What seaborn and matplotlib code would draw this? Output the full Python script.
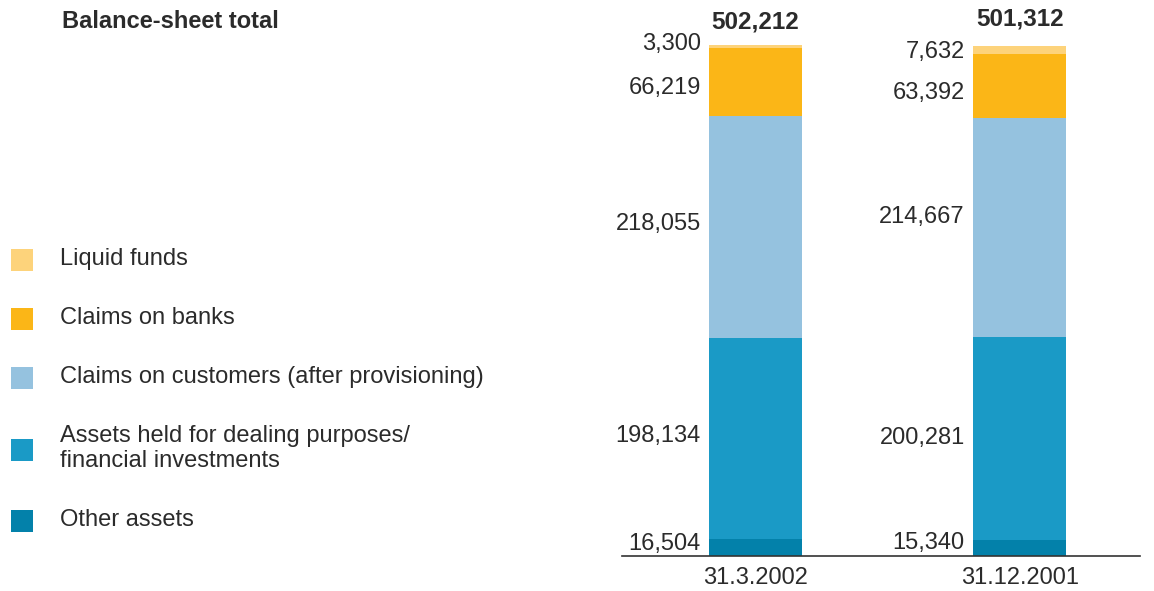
import numpy as np
import pandas as pd
import matplotlib
matplotlib.use("Agg")
import matplotlib.pyplot as plt
from matplotlib.patches import Rectangle
import seaborn as sns

# Balance-sheet assets (EUR m), stacked bottom to top
dates = ["31.3.2002", "31.12.2001"]
categories = [
    "Other assets",
    "Assets held for dealing purposes/\nfinancial investments",
    "Claims on customers (after provisioning)",
    "Claims on banks",
    "Liquid funds",
]
other_assets = [16504, 15340]
dealing_assets = [198134, 200281]
claims_customers = [218055, 214667]
claims_banks = [66219, 63392]
liquid_funds = [3300, 7632]
totals = [502212, 501312]

colors = ["#0381AA", "#1A9AC6", "#95C2DF", "#FBB617", "#FDD37B"]
text_color = "#2b2b2b"

sns.set_theme(style="white")
plt.rcParams["font.family"] = ["Liberation Sans", "DejaVu Sans"]

W, H = 1154, 591
fig = plt.figure(figsize=(W / 100, H / 100), dpi=100)
ax = fig.add_axes([622 / W, 35 / H, 518 / W, 556 / H])

layers = [other_assets, dealing_assets, claims_customers, claims_banks, liquid_funds]
values = np.array(layers, dtype=float)
cum = np.cumsum(values, axis=0)

# Draw cumulative bars from the top layer down so each layer covers the part below it
for i in range(len(layers) - 1, -1, -1):
    df = pd.DataFrame({"date": dates, "value": cum[i]})
    sns.barplot(data=df, x="date", y="value", order=dates, color=colors[i],
                saturation=1, width=0.352, ax=ax, linewidth=0, edgecolor="none")

ax.set_xlim(-0.506, 1.456)
ax.set_ylim(0, 546400)

# Segment value labels to the left of each bar (small pixel nudges to keep them clear)
nudges = [
    [4, 5],
    [2, 0],
    [3, 10],
    [-6, -7],
    [3, -2],
]
for i, layer in enumerate(layers):
    for j, v in enumerate(layer):
        bottom = cum[i][j] - v
        mid = bottom + v / 2
        ax.annotate(f"{v:,}", xy=(j - 0.176, mid), xytext=(-6, nudges[i][j] * 0.72),
                    textcoords="offset points", ha="right", va="center",
                    fontsize=17, color=text_color)

for j, t in enumerate(totals):
    ax.annotate(f"{t:,}", xy=(j, t), xytext=(0, 8 + 3 * j), textcoords="offset points",
                ha="center", va="bottom", fontsize=17.5, fontweight="bold", color=text_color)

sns.despine(ax=ax, left=True, top=True, right=True)
ax.spines["bottom"].set_color("#333333")
ax.spines["bottom"].set_linewidth(1.2)
ax.set_yticks([])
ax.set_xlabel("")
ax.set_ylabel("")
ax.tick_params(axis="x", length=0, pad=8, labelsize=17, labelcolor=text_color)

# Title
fig.text(62 / W, 1 - 21 / H, "Balance-sheet total", fontsize=17, fontweight="bold",
         color=text_color, ha="left", va="center")

# Legend, listed from the top layer down
y = 260.0
prev_h = None
for i in range(len(categories) - 1, -1, -1):
    label = categories[i]
    h = 59 + (label.count("\n")) * 25
    if prev_h is not None:
        y += prev_h / 2 + h / 2
    prev_h = h
    fig.add_artist(Rectangle((11 / W, 1 - (y + 11) / H), 22 / W, 22 / H,
                             transform=fig.transFigure, facecolor=colors[i],
                             edgecolor="none"))
    fig.text(60 / W, 1 - (y - 1) / H, label, fontsize=17, color=text_color,
             ha="left", va="center", linespacing=1.2)

fig.savefig("out.png", dpi=100)
